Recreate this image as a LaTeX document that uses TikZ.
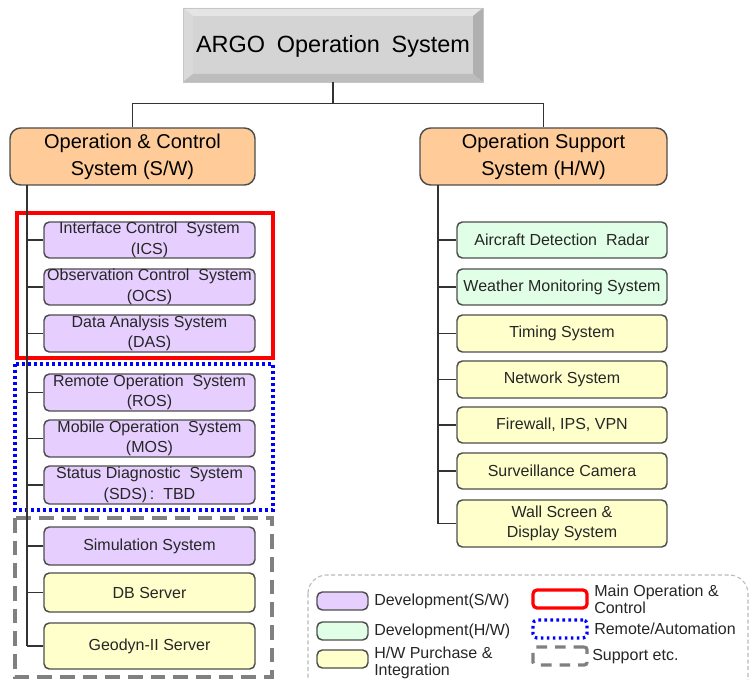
\documentclass[tikz,border=0pt]{standalone}
\usepackage{fontspec}
\setmainfont{Liberation Sans}
\usetikzlibrary{fit}
\definecolor{bline}{HTML}{4D4D4D}
\definecolor{cline}{HTML}{333333}
\definecolor{cpur}{HTML}{E6CFFF}
\definecolor{cgrn}{HTML}{E0FFE6}
\definecolor{cyel}{HTML}{FFFFCC}
\definecolor{corg}{HTML}{FFCC99}
\definecolor{cred}{HTML}{FF0000}
\definecolor{cblu}{HTML}{0000FF}
\definecolor{cgry}{HTML}{808080}
\definecolor{face}{HTML}{D4D4D4}
\tikzset{
  sysbox/.style={draw=bline, line width=1.1pt, rounded corners=4pt, inner sep=0pt},
  pur/.style={sysbox, fill=cpur},
  grn/.style={sysbox, fill=cgrn},
  yel/.style={sysbox, fill=cyel},
  org/.style={draw=bline, line width=1.1pt, rounded corners=8pt, inner sep=0pt, fill=corg},
  lbl/.style={inner sep=0pt, align=center, font=\fontsize{12}{15.5}\selectfont, text=black!85},
  olbl/.style={inner sep=0pt, align=center, font=\fontsize{15}{20}\selectfont},
  leg/.style={inner sep=0pt, anchor=west, align=left, font=\fontsize{12}{13}\selectfont, text=black!85},
  conn/.style={draw=cline, line width=1.1pt},
  redframe/.style={draw=cred, line width=2.4pt},
  bluframe/.style={draw=cblu, line width=2.4pt, dash pattern=on 2pt off 2.5pt},
  gryframe/.style={draw=cgry, line width=2.4pt, dash pattern=on 11pt off 6pt},
}
\newcommand\mkbox[7]{\node[#1, fit={(#3,#4) (#5,#6)}] (#2) {};\node[lbl] at (#2) {#7};}
\begin{document}
\begin{tikzpicture}[x=0.75pt,y=-0.75pt]
\useasboundingbox (0,0) rectangle (749,680);
\clip (0,0) rectangle (749,680);
% top beveled box
\fill[face] (183,8) rectangle (483,82);
\fill[gray!20] (183,8) -- (483,8) -- (473,16) -- (193,16) -- cycle;
\fill[gray!30] (183,8) -- (193,16) -- (193,74) -- (183,82) -- cycle;
\fill[gray!62] (483,8) -- (473,16) -- (473,74) -- (483,82) -- cycle;
\fill[gray!52] (183,82) -- (193,74) -- (473,74) -- (483,82) -- cycle;
\draw[gray!45, line width=0.6pt] (183,8) rectangle (483,82);
\node[fit={(183,8) (483,82)}, inner sep=0pt] (top) {};
\node[inner sep=0pt, font=\fontsize{17.6}{20}\selectfont] at (333,46) {ARGO\hspace{0.5em}Operation\hspace{0.5em}System};
% orange boxes
\node[org, fit={(10,128) (255,185)}] (ocs) {};
\node[olbl] at (ocs) {Operation \& Control\\System (S/W)};
\node[org, fit={(420,128) (667,185)}] (oss) {};
\node[olbl] at (oss) {Operation Support\\System (H/W)};
\draw[conn] (top.south) -- ++(0,21) coordinate (j);
\draw[conn] (ocs.north) |- (j) -| (oss.north);
% frames
\draw[redframe] (17,213) rectangle (273,358);
\draw[bluframe] (15,364) rectangle (273,510);
\draw[gryframe] (15,518) rectangle (272,677);
% left boxes
\mkbox{pur}{ics}{44}{222}{255}{258}{Interface Control\ \ System\\(ICS)}
\mkbox{pur}{ocsb}{44}{269}{255}{305}{Observation Control\ \ System\\(OCS)}
\mkbox{pur}{das}{44}{315}{255}{352}{Data Analysis System\\(DAS)}
\mkbox{pur}{ros}{44}{374}{255}{411}{Remote Operation\ \ System\\(ROS)}
\mkbox{pur}{mos}{44}{420}{255}{457}{Mobile Operation\ \ System\\(MOS)}
\mkbox{pur}{sds}{44}{466}{255}{504}{Status Diagnostic\ \ System\\(SDS)\,:\ \ TBD}
\mkbox{pur}{sim}{44}{527}{255}{565}{Simulation System}
\mkbox{yel}{db}{44}{573}{255}{612}{DB Server}
\mkbox{yel}{geo}{44}{623}{255}{669}{Geodyn-II Server}
\coordinate (lv) at (27,185);
\draw[conn] (lv) -- (lv |- geo.west);
\foreach \n in {ics,ocsb,das,ros,mos,sds,sim,db,geo} \draw[conn] (lv |- \n.west) -- (\n.west);
% right boxes
\mkbox{grn}{adr}{457}{222}{667}{258}{Aircraft Detection\ \ Radar}
\mkbox{grn}{wms}{457}{269}{667}{305}{Weather Monitoring System}
\mkbox{yel}{tim}{457}{315}{667}{352}{Timing System}
\mkbox{yel}{net}{457}{361}{667}{398}{Network System}
\mkbox{yel}{fw}{457}{407}{667}{443}{Firewall, IPS, VPN}
\mkbox{yel}{cam}{457}{453}{667}{489}{Surveillance Camera}
\mkbox{yel}{wall}{457}{500}{667}{547}{Wall Screen \&\\Display System}
\coordinate (rv) at (438,185);
\draw[conn] (rv) -- (rv |- wall.west);
\foreach \n in {adr,wms,tim,net,fw,cam,wall} \draw[conn] (rv |- \n.west) -- (\n.west);
% legend
\draw[gray!55, line width=0.8pt, dash pattern=on 3pt off 2pt, rounded corners=14pt] (308,575) rectangle (748,700);
\node[pur, fit={(317,592) (368,610)}] (lp) {};
\node[leg] at (374,601) {Development(S/W)};
\node[grn, fit={(317,622) (368,640)}] (lg) {};
\node[leg] at (374,631) {Development(H/W)};
\node[yel, fit={(317,650) (368,668)}] (ly) {};
\node[leg] at (374,663) {H/W Purchase \&\\Integration};
\node[redframe, rounded corners=3pt, fit={(533,590) (587,608)}, inner sep=0pt] (lr) {};
\node[leg] at (594,599) {Main Operation \&\\Control};
\node[bluframe, rounded corners=3pt, fit={(533,620) (587,638)}, inner sep=0pt] (lb) {};
\node[leg] at (594,629) {Remote/Automation};
\node[draw=cgry, line width=2.4pt, dash pattern=on 8pt off 6pt, rounded corners=2pt, fit={(533,647) (587,665)}, inner sep=0pt] (lgr) {};
\node[leg] at (592,657) {Support etc.};
\end{tikzpicture}
\end{document}
